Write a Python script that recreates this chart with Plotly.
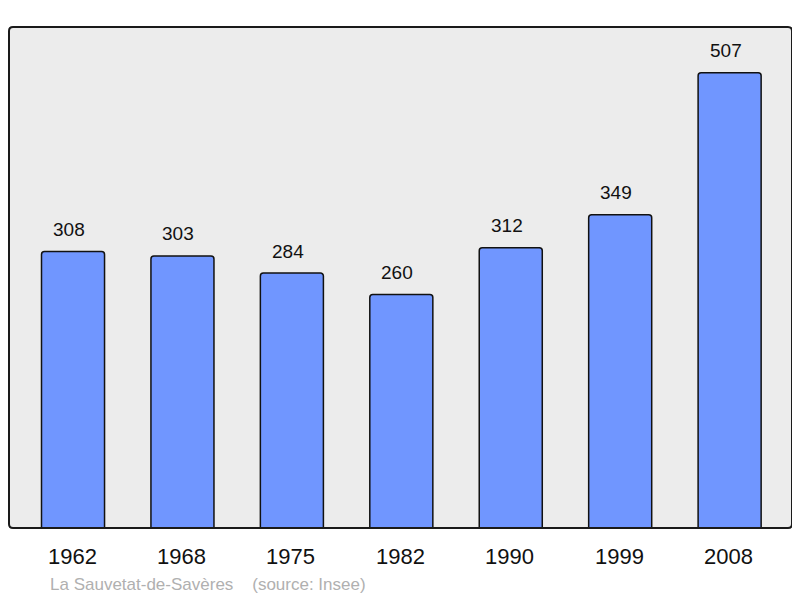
import plotly.graph_objects as go

years = ["1962", "1968", "1975", "1982", "1990", "1999", "2008"]
population = [308, 303, 284, 260, 312, 349, 507]
caption = "La Sauvetat-de-Savères\u00a0\u00a0\u00a0\u00a0(source: Insee)"

# page body has an 8px default margin, so the figure is shifted by 8px
OFF = 8
W, H = 800 - OFF, 598 - OFF
L, R, T, B = 9 - OFF, 8, 27 - OFF, 70
xs = list(range(len(years)))

fig = go.Figure()
fig.add_trace(go.Bar(
    x=xs, y=population, width=0.576,
    marker=dict(color="#7096ff", line=dict(color="#111111", width=1.5), cornerradius=3),
    hoverinfo="skip",
))

ann = []
for i, (yr, v) in enumerate(zip(years, population)):
    ann.append(dict(x=i, y=v, xref="x", yref="y", text=str(v), showarrow=False,
                    yanchor="middle", yshift=22, xshift=-4,
                    font=dict(family="Liberation Sans, Arial", size=19, color="#111111")))
    ann.append(dict(x=i, y=0, xref="x", yref="paper", text=yr, showarrow=False,
                    yanchor="middle", yshift=-28, xshift=-1,
                    font=dict(family="Liberation Sans, Arial", size=22, color="#111111")))
ann.append(dict(x=(48 - 9) / (W - L - R), y=0, xref="paper", yref="paper", text=caption,
                showarrow=False, xanchor="left", yanchor="middle", yshift=-56,
                font=dict(family="Liberation Sans, Arial", size=17, color="#b0b0b0")))

# rounded border around plot area (paper coords)
pw, ph = W - L - R, H - T - B
rx, ry = 4 / pw, 4 / ph
path = (f"M {rx},0 L {1-rx},0 Q 1,0 1,{ry} L 1,{1-ry} Q 1,1 {1-rx},1 "
        f"L {rx},1 Q 0,1 0,{1-ry} L 0,{ry} Q 0,0 {rx},0 Z")

fig.update_layout(
    width=W, height=H,
    margin=dict(l=L, r=R, t=T, b=B),
    paper_bgcolor="white", plot_bgcolor="#ececec",
    showlegend=False,
    xaxis=dict(range=[-0.585, 6.57], showticklabels=False, showgrid=False, zeroline=False, ticks=""),
    yaxis=dict(range=[0, 558], showticklabels=False, showgrid=False, zeroline=False, ticks=""),
    annotations=ann,
    shapes=[dict(type="path", xref="paper", yref="paper", path=path,
                 line=dict(color="#1a1a1a", width=2), layer="above")],
)

fig.write_html("out.html")
